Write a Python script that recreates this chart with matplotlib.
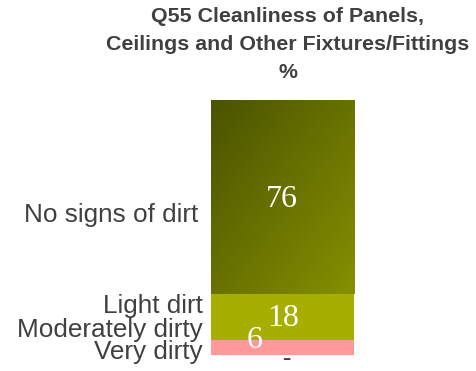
import numpy as np
import matplotlib.pyplot as plt
from matplotlib.colors import LinearSegmentedColormap

categories = ['No signs of dirt', 'Light dirt', 'Moderately dirty', 'Very dirty']
values = [76, 18, 6, 0]
value_labels = ['76', '18', '6', '-']
colors = ['#6b7300', '#a6ae00', '#ff9999', '#ff9999']
title_lines = ['Q55 Cleanliness of Panels,', 'Ceilings and Other Fixtures/Fittings', '%']

W, H = 477, 371
fig = plt.figure(figsize=(W / 100, H / 100), dpi=100)

def px(x, y):
    return x / W, 1 - y / H

# axes mapped onto the bar: x 211..354 px, y 100..355 px
ax = fig.add_axes([211 / W, (H - 355) / H, 143 / W, 255 / H])
ax.set_xlim(0, 1)
ax.set_ylim(0, 100)
ax.axis('off')

bottoms = 100 - np.cumsum(values)
bars = ax.bar([0.5] * len(values), values, width=1.0, bottom=bottoms,
              color=colors, linewidth=0)

# diagonal gradient on the big segment (dark top-left -> lighter bottom-right)
grad = LinearSegmentedColormap.from_list('olive', ['#4b5300', '#859000'])
xx, yy = np.meshgrid(np.linspace(0, 1, 100), np.linspace(0, 1, 100))
g = (xx + yy) / 2
im = ax.imshow(g, cmap=grad, extent=[0, 1, bottoms[0], 100], aspect='auto',
               origin='upper', zorder=3)
im.set_clip_path(bars[0])

# value labels (the zero one is a dash just under the bar)
val_pos = [(282, 200), (283, 318), (255, 341)]
for lab, (x, y) in zip(value_labels[:3], val_pos):
    fig.text(*px(x, y), lab, ha='center', va='center', color='white',
             fontsize=23, family='Liberation Serif', zorder=5)
fig.text(*px(286, 370), value_labels[3], ha='center', va='bottom',
         color='#404040', fontsize=18, family='Liberation Serif')

# category labels on the left
cat_pos = [(198, 215), (203, 306), (203, 330), (203, 352)]
for cat, (x, y) in zip(categories, cat_pos):
    fig.text(*px(x, y), cat, ha='right', va='center', color='#404040',
             fontsize=18.8, family='Liberation Sans')

# title, one line at a time
for line, y in zip(title_lines, [17, 45, 73]):
    fig.text(*px(288, y), line, ha='center', va='center', color='#404040',
             fontsize=15.4, fontweight='bold', family='Liberation Sans')

fig.savefig('out.png', dpi=100)
